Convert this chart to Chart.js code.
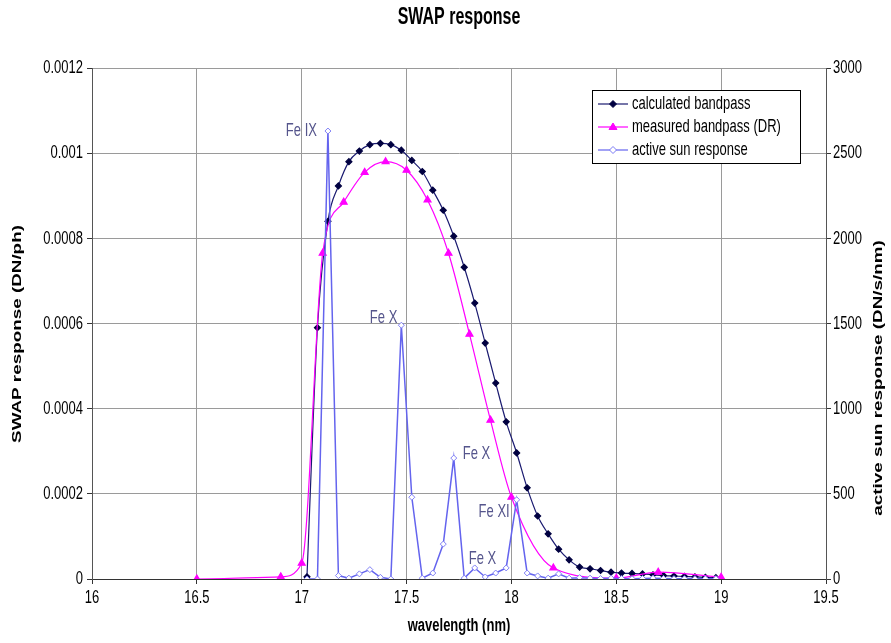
<!DOCTYPE html>
<html lang="en">
  <head>
    <meta charset="UTF-8" />
    <title>SWAP response</title>
    <script src="https://cdn.jsdelivr.net/npm/chart.js"></script>
    <style>
      body {
        margin: 0;
        background: #ffffff;
      }
      #wrap {
        width: 891px;
        height: 643px;
      }
    </style>
  </head>
  <body>
    <div id="wrap"><canvas id="swapChart" width="891" height="643"></canvas></div>

    <script>
      // wavelength grid (nm) shared by the calculated bandpass and the active sun spectrum
      const waveGrid = [
        17.025, 17.075, 17.125, 17.175, 17.225, 17.275, 17.325, 17.375, 17.425, 17.475,
        17.525, 17.575, 17.625, 17.675, 17.725, 17.775, 17.825, 17.875, 17.925, 17.975,
        18.025, 18.075, 18.125, 18.175, 18.225, 18.275, 18.325, 18.375, 18.425, 18.475,
        18.525, 18.575, 18.625, 18.675, 18.725, 18.775, 18.825, 18.875, 18.925, 18.975,
      ];
      const calcBandpass = [
        0.000005, 0.00059, 0.00084, 0.000923, 0.00098, 0.001005, 0.00102, 0.001023, 0.00102, 0.001007,
        0.000983, 0.000957, 0.000913, 0.000866, 0.000805, 0.000732, 0.000648, 0.000554, 0.00046, 0.000369,
        0.000296, 0.000214, 0.000148, 0.000106, 0.00007, 0.000045, 0.000028, 0.000024, 0.00002, 0.000016,
        0.000014, 0.000013, 0.000012, 0.00001, 0.000008, 0.000007, 0.000006, 0.000005, 0.000004, 0.000003,
      ];
      const activeSun = [
        0, 0, 2630, 20, 5, 30, 55, 10, 0, 1490,
        480, 5, 35, 205, 710, 5, 65, 12, 35, 65,
        465, 35, 18, 5, 30, 5, 8, 5, 3, 5,
        3, 2, 3, 5, 3, 2, 2, 2, 2, 2,
      ];

      // measured bandpass (DR) is sampled on its own, coarser grid
      const measWave = [16.5, 16.9, 17.0, 17.1, 17.2, 17.3, 17.4, 17.5, 17.6, 17.7, 17.8, 17.9, 18.0, 18.2, 18.5, 18.7, 19.0];
      const measBandpass = [
        0, 0.000005, 0.000037, 0.000765, 0.000885, 0.000955, 0.00098, 0.00096, 0.00089,
        0.000765, 0.000575, 0.000373, 0.000192, 0.000026, 0.000002, 0.000016, 0.000004,
      ];

      // line identifications on the active sun spectrum (index into waveGrid)
      const lineIds = [
        { i: 2, text: "Fe IX", dx: -11, dy: 0, align: "right" },
        { i: 9, text: "Fe X", dx: -4, dy: -7, align: "right" },
        { i: 14, text: "Fe X", dx: 9, dy: -4, align: "left" },
        { i: 16, text: "Fe X", dx: -6, dy: -9, align: "left" },
        { i: 20, text: "Fe XI", dx: -7, dy: 12, align: "right" },
      ];

      const xTicks = [16, 16.5, 17, 17.5, 18, 18.5, 19, 19.5];
      const FONT = "'Liberation Sans', Arial, sans-serif";
      const STRETCH = 1.45; // the original picture is vertically stretched

      const toPoints = (xs, ys) => xs.map((x, k) => ({ x: x, y: ys[k] }));

      function stretchedText(ctx, text, x, y, opts) {
        ctx.save();
        ctx.translate(x, y);
        if (opts.rotate) {
          ctx.rotate(opts.rotate);
          ctx.scale(STRETCH, 1);
        } else {
          ctx.scale(1, STRETCH);
        }
        ctx.font = opts.font;
        ctx.fillStyle = opts.color || "#000";
        ctx.textAlign = opts.align || "center";
        ctx.textBaseline = "middle";
        ctx.fillText(text, 0, 0);
        ctx.restore();
      }

      function marker(ctx, style, x, y, fill, stroke) {
        ctx.save();
        ctx.beginPath();
        if (style === "triangle") {
          ctx.moveTo(x, y - 4);
          ctx.lineTo(x + 4, y + 2.5);
          ctx.lineTo(x - 4, y + 2.5);
        } else {
          ctx.moveTo(x, y - 3.5);
          ctx.lineTo(x + 3.5, y);
          ctx.lineTo(x, y + 3.5);
          ctx.lineTo(x - 3.5, y);
        }
        ctx.closePath();
        ctx.fillStyle = fill;
        ctx.fill();
        ctx.strokeStyle = stroke;
        ctx.lineWidth = 1;
        ctx.stroke();
        ctx.restore();
      }

      const textPlugin = {
        id: "excelText",
        afterDraw(chart) {
          const ctx = chart.ctx;
          const area = chart.chartArea;
          const sx = chart.scales.x;
          const yl = chart.scales.y;
          const yr = chart.scales.y2;
          const midX = (area.left + area.right) / 2;

          stretchedText(ctx, "SWAP response", midX, 18, { font: "bold 16px " + FONT });

          sx.ticks.forEach((t) => {
            stretchedText(ctx, String(t.value), sx.getPixelForValue(t.value), 598, { font: "13px " + FONT });
          });
          yl.ticks.forEach((t) => {
            const lbl = t.value === 0 ? "0" : String(parseFloat(t.value.toFixed(4)));
            stretchedText(ctx, lbl, area.left - 9, yl.getPixelForValue(t.value), { font: "13px " + FONT, align: "right" });
          });
          yr.ticks.forEach((t) => {
            stretchedText(ctx, String(t.value), area.right + 7, yr.getPixelForValue(t.value), { font: "13px " + FONT, align: "left" });
          });

          stretchedText(ctx, "wavelength (nm)", midX, 626, { font: "bold 13px " + FONT });
          stretchedText(ctx, "SWAP response (DN/ph)", 17, 334, { font: "bold 13px " + FONT, rotate: -Math.PI / 2 });
          stretchedText(ctx, "active sun response (DN/s/nm)", 878, 378, { font: "bold 13px " + FONT, rotate: -Math.PI / 2 });

          // line identification labels
          const pts = chart.getDatasetMeta(2).data;
          lineIds.forEach((l) => {
            const p = pts[l.i];
            stretchedText(ctx, l.text, p.x + l.dx, p.y + l.dy, { font: "13px " + FONT, align: l.align, color: "#55558c" });
          });

          // legend
          const bx = 592, by = 90, bw = 208, bh = 73;
          ctx.save();
          ctx.fillStyle = "#fff";
          ctx.fillRect(bx, by, bw, bh);
          ctx.strokeStyle = "#000";
          ctx.lineWidth = 1;
          ctx.strokeRect(bx + 0.5, by + 0.5, bw, bh);
          ctx.restore();
          const rows = [
            { text: "calculated bandpass", line: "#1a1a70", style: "diamond", fill: "#000040", stroke: "#000040" },
            { text: "measured bandpass (DR)", line: "#ff00ff", style: "triangle", fill: "#ff00ff", stroke: "#ff00ff" },
            { text: "active sun response", line: "#6464ee", style: "diamond", fill: "#ffffff", stroke: "#7a7af5" },
          ];
          rows.forEach((r, k) => {
            const ry = 104 + k * 23;
            ctx.save();
            ctx.strokeStyle = r.line;
            ctx.lineWidth = 1.2;
            ctx.beginPath();
            ctx.moveTo(598, ry);
            ctx.lineTo(628, ry);
            ctx.stroke();
            ctx.restore();
            marker(ctx, r.style, 613, ry, r.fill, r.stroke);
            stretchedText(ctx, r.text, 632, ry, { font: "13px " + FONT, align: "left" });
          });
        },
      };

      new Chart(document.getElementById("swapChart"), {
        type: "line",
        data: {
          datasets: [
            {
              label: "calculated bandpass",
              data: toPoints(waveGrid, calcBandpass),
              yAxisID: "y",
              borderColor: "#1a1a70",
              borderWidth: 1.2,
              backgroundColor: "#000040",
              pointStyle: "rectRot",
              pointRadius: 3,
              pointBorderColor: "#000040",
              cubicInterpolationMode: "monotone",
              order: 3,
            },
            {
              label: "measured bandpass (DR)",
              data: toPoints(measWave, measBandpass),
              yAxisID: "y",
              borderColor: "#ff00ff",
              borderWidth: 1.2,
              backgroundColor: "#ff00ff",
              pointStyle: "triangle",
              pointRadius: 4,
              pointBorderColor: "#ff00ff",
              cubicInterpolationMode: "monotone",
              order: 2,
            },
            {
              label: "active sun response",
              data: toPoints(waveGrid, activeSun),
              yAxisID: "y2",
              borderColor: "#6464ee",
              borderWidth: 1.5,
              backgroundColor: "#ffffff",
              pointStyle: "rectRot",
              pointRadius: 3,
              pointBorderColor: "#8080f5",
              pointBorderWidth: 1,
              tension: 0,
              order: 1,
            },
          ],
        },
        options: {
          responsive: false,
          animation: false,
          layout: { padding: { top: 68, left: 0, right: 0, bottom: 0 } },
          plugins: {
            legend: { display: false },
            tooltip: { enabled: false },
          },
          scales: {
            x: {
              type: "linear",
              min: 16,
              max: 19.5,
              afterBuildTicks: (s) => {
                s.ticks = xTicks.map((v) => ({ value: v }));
              },
              ticks: { display: false },
              grid: { color: "#9a9a9a", tickLength: 5, tickColor: "#333" },
              border: { color: "#333" },
              afterFit: (s) => {
                s.height = 64;
              },
            },
            y: {
              position: "left",
              min: 0,
              max: 0.0012,
              ticks: { display: false, stepSize: 0.0002 },
              grid: { color: "#9a9a9a", tickLength: 5, tickColor: "#333" },
              border: { color: "#555" },
              afterFit: (s) => {
                s.width = 92;
              },
            },
            y2: {
              position: "right",
              min: 0,
              max: 3000,
              ticks: { display: false, stepSize: 500 },
              grid: { drawOnChartArea: false, tickLength: 5, tickColor: "#333" },
              border: { color: "#555" },
              afterFit: (s) => {
                s.width = 65;
              },
            },
          },
        },
        plugins: [textPlugin],
      });
    </script>
  </body>
</html>
